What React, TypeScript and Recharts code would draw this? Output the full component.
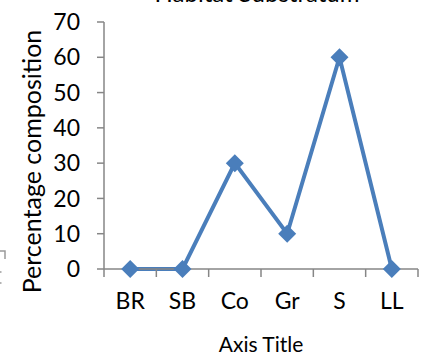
import React from 'react';
import { LineChart, Line, XAxis, YAxis, Label } from 'recharts';

const categories = ['BR', 'SB', 'Co', 'Gr', 'S', 'LL'];
const values = [0, 0, 30, 10, 60, 0];
const yTicks = [0, 10, 20, 30, 40, 50, 60, 70];
const chartTitle = 'Habitat Substratum';
const xTitle = 'Axis Title';
const yTitle = 'Percentage composition';

const data = categories.map((c, i) => ({ cat: c, value: values[i] }));

const FONT = 'Lato, "Open Sans", sans-serif';
const AXIS = '#868686';
const LINE = '#4A7EBB';
const X_TICK_SIZE = 8;
const X_TICK_MARGIN = 16;

const Diamond = (props: any) => {
  const { cx, cy } = props;
  if (cx == null || cy == null) return null;
  const r = 9;
  return (
    <polygon
      points={`${cx},${cy - r} ${cx + r},${cy} ${cx},${cy + r} ${cx - r},${cy}`}
      fill={LINE}
      stroke="none"
    />
  );
};

const XTick = (props: any) => {
  const { x, y, payload, index, visibleTicksCount } = props;
  const off = payload?.offset ?? 0;
  const ay = y - X_TICK_SIZE - X_TICK_MARGIN;
  const isLast = index === (visibleTicksCount ?? categories.length) - 1;
  return (
    <g>
      <line x1={x - off} y1={ay} x2={x - off} y2={ay + X_TICK_SIZE} stroke={AXIS} strokeWidth={1.5} />
      {isLast && (
        <line x1={x + off} y1={ay} x2={x + off} y2={ay + X_TICK_SIZE} stroke={AXIS} strokeWidth={1.5} />
      )}
      <text x={x} y={y} dy="0.71em" textAnchor="middle" fontFamily={FONT} fontSize={23} fill="#000">
        {payload?.value}
      </text>
    </g>
  );
};

const YLabel = (props: any) => {
  const vb = props.viewBox || {};
  const cx = 31;
  const cy = (vb.y ?? 0) + (vb.height ?? 0) / 2 + 16;
  return (
    <text
      x={cx}
      y={cy}
      transform={`rotate(-90, ${cx}, ${cy})`}
      textAnchor="middle"
      dominantBaseline="central"
      fontFamily={FONT}
      fontSize={25}
      fill="#000"
    >
      {yTitle}
    </text>
  );
};

export default function App() {
  return (
    <div style={{ position: 'absolute', left: 0, top: 0, width: 429, height: 355, background: '#fff', overflow: 'hidden' }}>
      <div
        style={{
          position: 'absolute',
          left: 0,
          width: 514,
          top: -21,
          textAlign: 'center',
          fontFamily: FONT,
          fontSize: 24,
          lineHeight: '28px',
          color: '#000',
          whiteSpace: 'nowrap',
        }}
      >
        {chartTitle}
      </div>
      <svg style={{ position: 'absolute', left: 0, top: 240 }} width={10} height={50}>
        <path d="M0,11 L5,11 L5,19" stroke="#9a9a9a" strokeWidth={1.5} fill="none" />
        <path d="M0,32 L1.5,32 M0,43 L1.5,43" stroke="#9a9a9a" strokeWidth={1.5} fill="none" />
      </svg>
      <LineChart
        width={429}
        height={355}
        data={data}
        margin={{ top: 22, right: 11, bottom: 0, left: 0 }}
        style={{ position: 'absolute', left: 0, top: 0 }}
      >
        <XAxis
          dataKey="cat"
          scale="band"
          height={86}
          axisLine={{ stroke: AXIS, strokeWidth: 1.5 }}
          tickLine={false}
          tickSize={X_TICK_SIZE}
          tickMargin={X_TICK_MARGIN}
          tick={<XTick />}
          interval={0}
        >
          <Label
            value={xTitle}
            position="insideBottom"
            offset={3}
            style={{ fontFamily: FONT, fontSize: 21, fill: '#000' }}
          />
        </XAxis>
        <YAxis
          domain={[0, 70]}
          ticks={yTicks}
          width={104}
          tickSize={7}
          tickMargin={17}
          axisLine={{ stroke: AXIS, strokeWidth: 1.5 }}
          tickLine={{ stroke: AXIS, strokeWidth: 1.5 }}
          tick={{ fontFamily: FONT, fontSize: 23, fill: '#000' }}
          interval={0}
        >
          <Label content={<YLabel />} />
        </YAxis>
        <Line
          dataKey="value"
          stroke={LINE}
          strokeWidth={4}
          dot={<Diamond />}
          activeDot={false}
          isAnimationActive={false}
        />
      </LineChart>
    </div>
  );
}
